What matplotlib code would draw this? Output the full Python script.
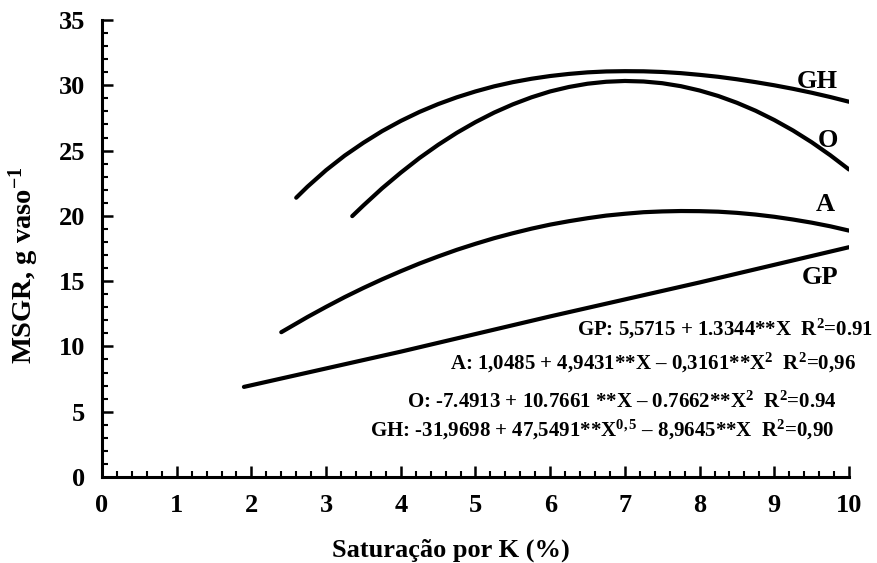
import matplotlib
matplotlib.use("Agg")
import matplotlib.pyplot as plt
from matplotlib.ticker import MultipleLocator

plt.rcParams['font.family'] = ['Liberation Serif', 'DejaVu Serif']
plt.rcParams['font.weight'] = 'bold'
plt.rcParams['mathtext.fontset'] = 'custom'
plt.rcParams['mathtext.rm'] = 'Liberation Serif:bold'
plt.rcParams['mathtext.it'] = 'Liberation Serif:bold:italic'
plt.rcParams['mathtext.bf'] = 'Liberation Serif:bold'

# Values
x_gh = [2.6, 2.75, 3.0, 3.25, 3.5, 3.75, 4.0, 4.25, 4.5, 4.75, 5.0, 5.25, 5.5, 5.75, 6.0, 6.25,
        6.5, 6.75, 7.0, 7.25, 7.5, 7.75, 8.0, 8.25, 8.5, 8.75, 9.0, 9.25, 9.5, 9.75, 10.0]
y_gh = [21.39, 22.23, 23.50, 24.62, 25.60, 26.49, 27.27, 27.96, 28.56, 29.08, 29.53, 29.92, 30.24, 30.50, 30.71, 30.87,
        30.99, 31.06, 31.08, 31.07, 31.02, 30.93, 30.80, 30.65, 30.46, 30.24, 30.00, 29.73, 29.43, 29.10, 28.74]

x_o = [3.35, 3.5, 3.75, 4.0, 4.25, 4.5, 4.75, 5.0, 5.25, 5.5, 5.75, 6.0, 6.25, 6.5, 6.75, 7.0,
       7.25, 7.5, 7.75, 8.0, 8.25, 8.5, 8.75, 9.0, 9.25, 9.5, 9.75, 10.0]
y_o = [19.98, 20.80, 22.11, 23.31, 24.43, 25.44, 26.36, 27.18, 27.91, 28.54, 29.08, 29.53, 29.87, 30.12, 30.27, 30.33,
       30.29, 30.16, 29.93, 29.60, 29.18, 28.66, 28.05, 27.34, 26.54, 25.64, 24.64, 23.55]

x_a = [2.4, 2.75, 3.0, 3.25, 3.5, 3.75, 4.0, 4.25, 4.5, 4.75, 5.0, 5.25, 5.5, 5.75, 6.0, 6.25,
       6.5, 6.75, 7.0, 7.25, 7.5, 7.75, 8.0, 8.25, 8.5, 8.75, 9.0, 9.25, 9.5, 9.75, 10.0]
y_a = [11.09, 12.25, 13.03, 13.78, 14.48, 15.14, 15.76, 16.35, 16.89, 17.40, 17.86, 18.29, 18.67, 19.02, 19.33, 19.59,
       19.82, 20.02, 20.16, 20.28, 20.34, 20.37, 20.36, 20.32, 20.23, 20.10, 19.93, 19.72, 19.48, 19.20, 18.87]

x_gp = [1.9, 4.0, 6.0, 8.0, 10.0]
y_gp = [6.9, 9.6, 12.3, 14.9, 17.6]

curve_labels = ['GH', 'O', 'A', 'GP']
label_x = [9.58, 9.72, 9.68, 9.61]
label_y = [30.3, 25.8, 20.9, 15.3]

equations = [
    "GP: 5,5715 + 1.3344**X  R$^{2}$=0.91",
    "A: 1,0485 + 4,9431**X – 0,3161**X$^{2}$  R$^{2}$=0,96",
    "O: -7.4913 + 10.7661 **X – 0.7662**X$^{2}$  R$^{2}$=0.94",
    "GH: -31,9698 + 47,5491**X$^{0,5}$ – 8,9645**X  R$^{2}$=0,90",
]
eq_x = [6.36, 4.66, 4.08, 3.59]
eq_y = [11.3, 8.7, 5.75, 3.6]

fig = plt.figure(figsize=(8.78, 5.63), dpi=100)
ax = fig.add_axes([102/878, 1-477/563, (849-102)/878, (477-20)/563])

for xs, ys in [(x_gh, y_gh), (x_o, y_o), (x_a, y_a), (x_gp, y_gp)]:
    ax.plot(xs, ys, color='black', lw=3.0, solid_capstyle='round', solid_joinstyle='round')

for lab, lx, ly in zip(curve_labels, label_x, label_y):
    ax.text(lx, ly, lab, fontsize=19, fontweight='bold', ha='center', va='center')

for eq, ex, ey in zip(equations, eq_x, eq_y):
    ax.text(ex, ey, eq, fontsize=15, fontweight='bold', ha='left', va='center')

ax.set_xlim(0, 10)
ax.set_ylim(0, 35)
ax.xaxis.set_major_locator(MultipleLocator(1))
ax.xaxis.set_minor_locator(MultipleLocator(0.2))
ax.yaxis.set_major_locator(MultipleLocator(5))
ax.yaxis.set_minor_locator(MultipleLocator(1))
ax.tick_params(which='major', direction='in', length=8, width=1.8, labelsize=19, pad=12)
ax.tick_params(which='minor', direction='in', length=4, width=1.5)
for t in ax.get_xticklabels() + ax.get_yticklabels():
    t.set_fontweight('bold')

for s in ['top', 'right']:
    ax.spines[s].set_visible(False)
for s in ['left', 'bottom']:
    ax.spines[s].set_linewidth(2.2)

ax.set_xlabel("Saturação por K (%)", fontsize=19, fontweight='bold', labelpad=14)
ax.xaxis.set_label_coords(0.467, -0.135)
ax.set_ylabel("MSGR, g vaso$^{-1}$", fontsize=20.5, fontweight='bold', labelpad=14)
ax.yaxis.set_label_coords(-0.082, 0.464)

fig.savefig("out.png", dpi=100)
